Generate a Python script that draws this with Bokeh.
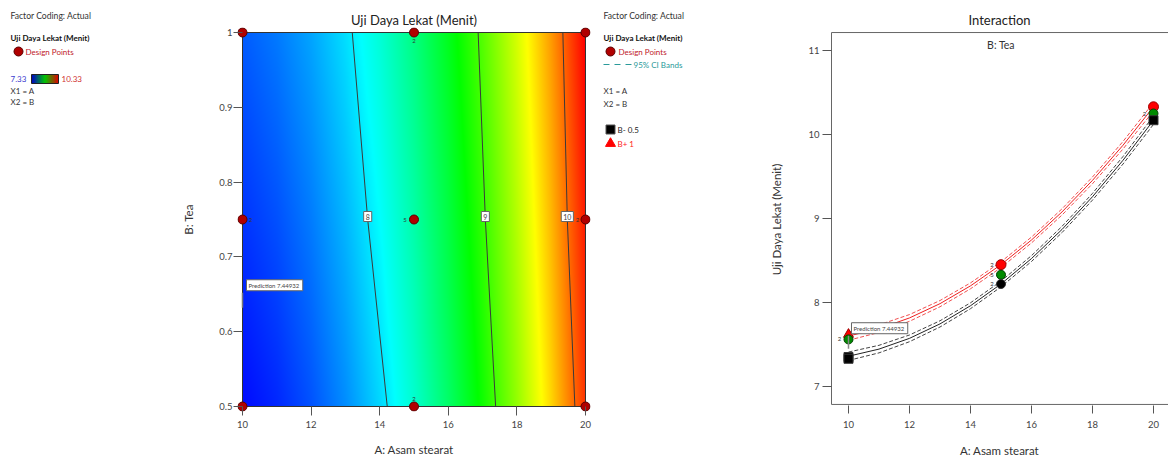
import numpy as np
from bokeh.plotting import figure
from bokeh.layouts import row
from bokeh.models import Range1d, FixedTicker, Label, CustomJSTickFormatter
from bokeh.core.properties import value
from bokeh.embed import file_html
from bokeh.resources import INLINE

FONT = "Lato"

# ---------------- data ----------------
a_knots = [10, 11, 12, 13, 14, 15, 16, 17, 18, 19, 20]
resp_b_low = [7.36, 7.445, 7.573, 7.745, 7.961, 8.22, 8.523, 8.869, 9.259, 9.693, 10.17]   # B = 0.5
resp_b_high = [7.60, 7.688, 7.816, 7.986, 8.198, 8.45, 8.744, 9.078, 9.454, 9.872, 10.33]  # B = 1
ci_half = [0.05, 0.045, 0.04, 0.037, 0.035, 0.034, 0.035, 0.037, 0.04, 0.045, 0.05]
b_low, b_high = 0.5, 1.0
resp_min, resp_max = 7.33, 10.33

contour_labels = ["8", "9", "10"]
contour_b = [0.5, 0.75, 1.0]
contour_a = [
    [14.22, 13.65, 13.20],
    [17.38, 17.08, 16.87],
    [19.69, 19.47, 19.34],
]

design_a = [10, 10, 10, 15, 15, 15, 20, 20, 20]
design_b = [0.5, 0.75, 1.0, 0.5, 0.75, 1.0, 0.5, 0.75, 1.0]
count_a = [15, 15, 15, 20, 10]
count_b = [1.0, 0.75, 0.5, 0.75, 0.75]
count_txt = ["2", "5", "2", "2", "2"]

pred_a, pred_b, pred_val = 10, 0.632, 7.44932

x_ticks_a = [10, 12, 14, 16, 18, 20]
y_ticks_b = [0.5, 0.6, 0.7, 0.8, 0.9, 1.0]
y_ticks_resp = [7, 8, 9, 10, 11]
resp_axis_lo, resp_axis_hi = 6.786, 11.214
a_axis_lo = 9.443

low_pts_a = [10, 10, 15, 20]
low_pts_y = [7.35, 7.33, 8.22, 10.17]
low_pts_marker = ["square", "square", "circle", "square"]
mid_pts_a = [10, 15, 20]
mid_pts_y = [7.56, 8.33, 10.25]
mid_pts_count = ["2", "5", "2"]
high_pts_a = [10, 15, 20]
high_pts_y = [7.62, 8.45, 10.33]
high_pts_marker = ["triangle", "circle", "circle"]
inter_count_a = [15, 15]
inter_count_y = [8.45, 8.22]
inter_count_txt = ["2", "2"]

# ---------------- helpers ----------------
def ramp_rgba(vals, s_stops, rgb_stops, vmin, vmax):
    s = np.clip((np.asarray(vals, dtype=float) - vmin) / (vmax - vmin), 0, 1)
    out = np.zeros(s.shape + (4,), dtype=np.uint8)
    for k in range(3):
        out[..., k] = np.round(np.interp(s, s_stops, [c[k] for c in rgb_stops]))
    out[..., 3] = 255
    return out


def to_image(rgba):
    h, w = rgba.shape[:2]
    img = np.empty((h, w), dtype=np.uint32)
    img.view(dtype=np.uint8).reshape((h, w, 4))[:] = rgba
    return img


SURF_S = [0, 0.25, 0.5, 0.75, 1]
SURF_RGB = [(0, 0, 255), (0, 255, 255), (0, 255, 0), (255, 255, 0), (255, 0, 0)]
BAR_S = [0, 0.5, 1]
BAR_RGB = [(0, 0, 200), (0, 200, 0), (225, 0, 0)]
H = 463
TOP, BOT = 27, 52          # frame from y=27 to y=411 in every panel


def legend_fig(x0, x1, heading, offset):
    f = figure(width=x1 - x0, height=H, x_range=Range1d(x0, x1), y_range=Range1d(-(H - BOT), -TOP),
               output_backend="svg", toolbar_location=None, x_axis_type=None, y_axis_type=None,
               min_border_left=0, min_border_right=0, min_border_top=TOP, min_border_bottom=BOT)
    f.outline_line_color = None
    f.grid.visible = False
    f.title.text = heading
    f.title.align = "left"
    f.title.offset = offset
    f.title.standoff = 14
    f.title.text_font = FONT
    f.title.text_font_size = "8.6px"
    f.title.text_font_style = "normal"
    f.title.text_color = "#333333"
    return f


def put(f, x, y, txt, color="#333333", size="8px", style="normal"):
    f.add_layout(Label(x=x, y=-y, text=txt, text_color=color, text_font=FONT,
                       text_font_size=size, text_font_style=style, text_baseline="middle",
                       text_align="left"))


def style_axis(ax, size="9.5px"):
    ax.major_label_text_font = FONT
    ax.major_label_text_font_size = size
    ax.major_label_text_color = "#444444"
    ax.axis_label_text_font = FONT
    ax.axis_label_text_font_size = "11.5px"
    ax.axis_label_text_font_style = "normal"
    ax.axis_label_text_color = "#333333"
    ax.major_tick_line_color = "#555555"
    ax.minor_tick_line_color = None
    ax.axis_line_color = None


def style_title(fig, text):
    fig.title.text = text
    fig.title.align = "center"
    fig.title.text_font = FONT
    fig.title.text_font_size = "13px"
    fig.title.text_font_style = "normal"
    fig.title.text_color = "#222222"
    fig.title.standoff = -1.5


# ---------------- left legend ----------------
f1 = legend_fig(0, 168, "Factor Coding: Actual", 10)
put(f1, 10, 37, "Uji Daya Lekat (Menit)", color="#111111", style="bold")
f1.scatter(x=[18], y=[-51], size=9, fill_color="#b00000", line_color="#5a0000")
put(f1, 25, 51, "Design Points", color="#c0202a")
put(f1, 10, 78, "7.33", color="#4040d0")
bar = ramp_rgba(np.linspace(resp_min, resp_max, 60)[None, :], BAR_S, BAR_RGB, resp_min, resp_max)
f1.image_rgba(image=[to_image(bar)], x=31, y=-83, dw=27, dh=9)
f1.quad(left=[31], right=[58], bottom=[-83], top=[-74], fill_color=None, line_color="#222222")
put(f1, 61, 78, "10.33", color="#d03030")
put(f1, 10, 90, "X1 = A")
put(f1, 10, 101, "X2 = B")

# ---------------- contour plot ----------------
a_min, a_max = min(a_knots), max(a_knots)
pad_a = 5 * (a_max - a_min) / 343.0
pad_b = 5 * (b_high - b_low) / 374.0
p = figure(width=427, height=H,
           x_range=Range1d(a_min - pad_a, a_max + pad_a),
           y_range=Range1d(b_low - pad_b, b_high + pad_b),
           output_backend="svg", toolbar_location=None,
           min_border_left=69, min_border_right=5, min_border_top=TOP, min_border_bottom=BOT)
p.outline_line_color = None
p.grid.visible = False
style_title(p, "Uji Daya Lekat (Menit)")

nx, ny = 343, 187
ga = np.linspace(a_min, a_max, nx)
gb = np.linspace(b_low, b_high, ny)
lo = np.interp(ga, a_knots, resp_b_low)
hi = np.interp(ga, a_knots, resp_b_high)
wb = (gb - b_low) / (b_high - b_low)
field = lo[None, :] + (hi - lo)[None, :] * wb[:, None]
surf = ramp_rgba(field, SURF_S, SURF_RGB, resp_min, resp_max)
p.image_rgba(image=[to_image(surf)], x=a_min, y=b_low, dw=a_max - a_min, dh=b_high - b_low)

for ca in contour_a:
    p.line(x=ca, y=contour_b, line_color="#3a3a3a", line_width=1)
p.quad(left=[a_min], right=[a_max], bottom=[b_low], top=[b_high], fill_color=None,
       line_color="#333333", line_width=1)

for lab, ca in zip(contour_labels, contour_a):
    p.add_layout(Label(x=ca[1], y=contour_b[1], text=lab, text_font=FONT, text_font_size="7px",
                       text_align="center", text_baseline="middle", y_offset=3,
                       background_fill_color="white", border_line_color="#666666", padding=2))

p.scatter(x=design_a, y=design_b, size=9, fill_color="#b00000", line_color="#5a0000")
cnt_dx = [0, -9, 0, -8, 8]
cnt_dy = [8, 0, -8, 0, 0]
p.text(x=count_a, y=count_b, text=count_txt, x_offset=cnt_dx, y_offset=cnt_dy,
       text_font=value(FONT), text_font_size="6px", text_color="#333333",
       text_align="center", text_baseline="middle")

p.ray(x=[pred_a], y=[pred_b], length=15, angle=np.pi / 2, length_units="screen",
      line_color="#777777", line_width=1.5)
p.add_layout(Label(x=pred_a, y=pred_b, x_offset=4, y_offset=17, text="Prediction  %.5f" % pred_val,
                   text_font=FONT, text_font_size="6px", text_baseline="bottom",
                   background_fill_color="white", border_line_color="#666666", padding=2))

p.xaxis.ticker = FixedTicker(ticks=x_ticks_a)
p.yaxis.ticker = FixedTicker(ticks=y_ticks_b)
p.yaxis.formatter = CustomJSTickFormatter(code="return tick.toString()")
p.xaxis.axis_label = "A: Asam stearat"
p.yaxis.axis_label = "B: Tea"
for ax in (p.xaxis[0], p.yaxis[0]):
    style_axis(ax)
    ax.major_tick_in = 5
    ax.major_tick_out = 4
p.xaxis.major_label_standoff = 5
p.xaxis.axis_label_standoff = 12
p.yaxis.major_label_standoff = 1
p.yaxis.axis_label_standoff = 21

# ---------------- middle legend ----------------
f3 = legend_fig(595, 760, "Factor Coding: Actual", 8)
put(f3, 603, 37, "Uji Daya Lekat (Menit)", color="#111111", style="bold")
f3.scatter(x=[610], y=[-51], size=9, fill_color="#b00000", line_color="#5a0000")
put(f3, 618, 51, "Design Points", color="#c0202a")
f3.line(x=[603, 631], y=[-64, -64], line_color="#2a9a9a", line_width=1.2, line_dash="6 5")
put(f3, 633, 64, "95% CI Bands", color="#2a9a9a")
put(f3, 603, 90, "X1 = A")
put(f3, 603, 103, "X2 = B")
f3.scatter(x=[610], y=[-129], marker="square", size=9, fill_color="black", line_color="#555555")
put(f3, 617, 129, "B- 0.5", color="#222222")
f3.scatter(x=[610], y=[-143], marker="triangle", size=10, fill_color="#ff0000", line_color="#ff0000")
put(f3, 617, 143, "B+ 1", color="#ff2020")

# ---------------- interaction plot ----------------
q = figure(width=408, height=H, x_range=Range1d(9.41, 20.492), y_range=Range1d(6.702, 11.274),
           output_backend="svg", toolbar_location=None,
           min_border_left=70, min_border_right=0, min_border_top=TOP, min_border_bottom=BOT)
q.outline_line_color = None
q.grid.visible = False
style_title(q, "Interaction")

# plot box (left, bottom and top edges; right edge lies beyond the visible area)
q.quad(left=[a_axis_lo], right=[a_max + 1], bottom=[resp_axis_lo], top=[resp_axis_hi],
       fill_color=None, line_color="#666666", line_width=1)

low_up = [r + c for r, c in zip(resp_b_low, ci_half)]
low_dn = [r - c for r, c in zip(resp_b_low, ci_half)]
high_up = [r + c for r, c in zip(resp_b_high, ci_half)]
high_dn = [r - c for r, c in zip(resp_b_high, ci_half)]
q.line(x=a_knots, y=low_up, line_color="#444444", line_dash="4 2", line_width=1)
q.line(x=a_knots, y=low_dn, line_color="#444444", line_dash="4 2", line_width=1)
q.line(x=a_knots, y=resp_b_low, line_color="#222222", line_width=1)
q.line(x=a_knots, y=high_up, line_color="#f05050", line_dash="4 2", line_width=1)
q.line(x=a_knots, y=high_dn, line_color="#f05050", line_dash="4 2", line_width=1)
q.line(x=a_knots, y=resp_b_high, line_color="#ee2020", line_width=1)

q.scatter(x=high_pts_a, y=high_pts_y, marker=high_pts_marker, size=10, fill_color="#ff0000",
          line_color="#a00000")
q.scatter(x=mid_pts_a, y=mid_pts_y, size=9, fill_color="#008a00", line_color="#004000")
q.scatter(x=low_pts_a, y=low_pts_y, marker=low_pts_marker, size=9, fill_color="black",
          line_color="#333333")
q.text(x=mid_pts_a, y=mid_pts_y, text=mid_pts_count, x_offset=-9, text_font=value(FONT),
       text_font_size="6px", text_color="#333333", text_align="center", text_baseline="middle")
q.text(x=inter_count_a, y=inter_count_y, text=inter_count_txt, x_offset=-9, text_font=value(FONT),
       text_font_size="6px", text_color="#333333", text_align="center", text_baseline="middle")

q.ray(x=[pred_a], y=[pred_val], length=13, angle=np.pi / 2, length_units="screen",
      line_color="#888888", line_width=1.5)
q.add_layout(Label(x=pred_a, y=pred_val, x_offset=3, y_offset=15, text="Prediction  %.5f" % pred_val,
                   text_font=FONT, text_font_size="6px", text_baseline="bottom",
                   background_fill_color="white", border_line_color="#666666", padding=2))
q.text(x=[15], y=[11.06], text=["B: Tea"], text_font=value(FONT), text_font_size="10.5px",
       text_color="#333333", text_align="center", text_baseline="middle")

q.xaxis.ticker = FixedTicker(ticks=x_ticks_a)
q.yaxis.ticker = FixedTicker(ticks=y_ticks_resp)
q.xaxis.axis_label = "A: Asam stearat"
q.yaxis.axis_label = "Uji Daya Lekat (Menit)"
for ax in (q.xaxis[0], q.yaxis[0]):
    style_axis(ax)
q.xaxis.major_tick_in = 6
q.xaxis.major_tick_out = 2
q.xaxis.major_label_standoff = 7
q.xaxis.axis_label_standoff = 13
q.yaxis.major_tick_in = 1
q.yaxis.major_tick_out = 8
q.yaxis.major_label_standoff = 3
q.yaxis.axis_label_standoff = 22

layout = row(f1, p, f3, q)
open("out.html", "w").write(file_html(layout, INLINE))
